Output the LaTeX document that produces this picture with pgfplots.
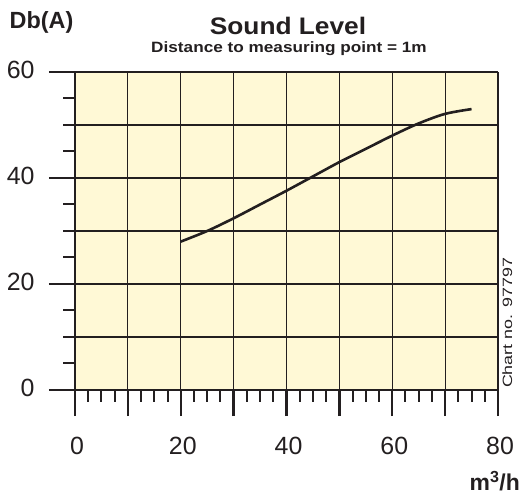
\documentclass[border=0pt]{standalone}
\usepackage{fontspec}
\setmainfont{Liberation Sans}
\usepackage{pgfplots}
\pgfplotsset{compat=1.18}
\definecolor{bgy}{HTML}{FFF9D6}
\definecolor{ink}{HTML}{231F20}
\begin{document}
\begin{tikzpicture}[x=1bp,y=1bp]
\path[use as bounding box] (0,0) rectangle (523,497);
\begin{axis}[
  at={(75bp,107bp)}, anchor=south west,
  scale only axis, width=423bp, height=318bp,
  xmin=0, xmax=80, ymin=0, ymax=60,
  axis x line=bottom, axis y line=left,
  axis line style={-, line width=2.4bp, ink},
  xtick={0,10,...,80}, xticklabels={0,,20,,40,,60,,80},
  ytick={0,20,40,60},
  extra y ticks={10,30,50}, extra y tick labels={},
  extra y tick style={major tick length=0pt, grid=major},
  minor x tick num=3, minor y tick num=3,
  tick align=outside,
  major tick length=26bp, minor tick length=12bp,
  major tick style={line width=2.4bp, ink},
  minor tick style={line width=2bp, ink},
  xmajorgrids, ymajorgrids,
  major grid style={ink, line width=1.2bp},
  axis background/.style={fill=bgy},
  tick label style={font=\fontsize{25}{25}\selectfont, text=ink},
  xticklabel style={yshift=-18bp, xshift=2bp},
  yticklabel style={xshift=-11bp, yshift=2bp},
  /pgf/number format/assume math mode=true,
]
\addplot[ink, line width=2.6bp, smooth] coordinates {
  (20,28) (25,30) (30,32.4) (35,35) (40,37.6) (45,40.3) (50,43)
  (55,45.5) (60,48) (65,50.3) (70,52.1) (75,53)
};
\end{axis}
\node[font=\bfseries\fontsize{23.5}{23.5}\selectfont, text=ink, anchor=base, inner sep=0pt] at (41.5,468) {Db(A)};
\node[font=\bfseries\fontsize{24}{24}\selectfont, text=ink, anchor=base, inner sep=0pt] at (288,462) {\scalebox{1.1}[1]{Sound Level}};
\node[font=\bfseries\fontsize{15}{15}\selectfont, text=ink, anchor=base, inner sep=0pt] at (289,444) {\scalebox{1.15}[1]{Distance to measuring point = 1m}};
\node[font=\bfseries\fontsize{23}{23}\selectfont, text=ink, anchor=base east, inner sep=0pt] at (520,6) {m\textsuperscript{3}/h};
\node[font=\fontsize{13.5}{13.5}\selectfont, text=ink, rotate=90, anchor=base, inner sep=0pt] at (512,174) {\scalebox{1.33}[1]{Chart no. 97797}};
\end{tikzpicture}
\end{document}
